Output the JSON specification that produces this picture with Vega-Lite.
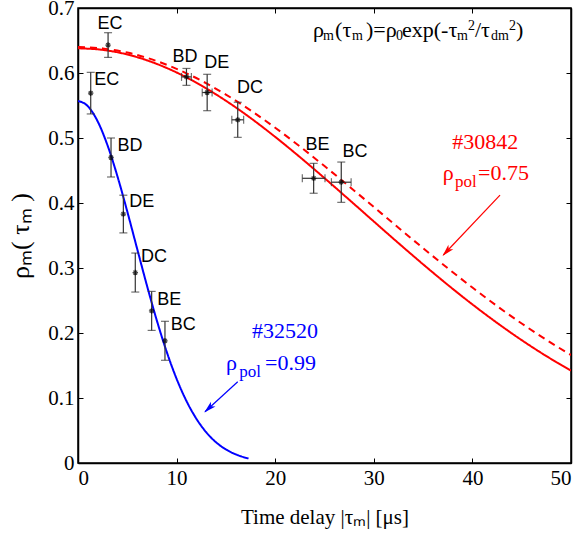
{
  "$schema": "https://vega.github.io/schema/vega-lite/v6.json",
  "width": 493,
  "height": 455,
  "autosize": "none",
  "padding": {"left": 78, "top": 8, "right": 14, "bottom": 72},
  "background": "white",
  "config": {
    "view": {"stroke": "black", "strokeWidth": 1.5},
    "axis": {
      "labelFont": "Liberation Serif",
      "labelFontSize": 21,
      "labelColor": "black",
      "titleFont": "Liberation Serif",
      "titleFontSize": 21,
      "titleFontWeight": "normal",
      "titleColor": "black",
      "domainColor": "black",
      "domainWidth": 1.5,
      "tickColor": "black",
      "tickWidth": 1,
      "grid": false
    }
  },
  "datasets": {
    "curves": [
      {"series": "blue", "x": 0, "y": 0.557},
      {"series": "blue", "x": 1, "y": 0.5489},
      {"series": "blue", "x": 2, "y": 0.5254},
      {"series": "blue", "x": 3, "y": 0.4885},
      {"series": "blue", "x": 4, "y": 0.4411},
      {"series": "blue", "x": 5, "y": 0.3868},
      {"series": "blue", "x": 6, "y": 0.3295},
      {"series": "blue", "x": 7, "y": 0.2726},
      {"series": "blue", "x": 8, "y": 0.219},
      {"series": "blue", "x": 9, "y": 0.1709},
      {"series": "blue", "x": 10, "y": 0.1295},
      {"series": "blue", "x": 11, "y": 0.0954},
      {"series": "blue", "x": 12, "y": 0.0682},
      {"series": "blue", "x": 13, "y": 0.0474},
      {"series": "blue", "x": 14, "y": 0.0319},
      {"series": "blue", "x": 15, "y": 0.0209},
      {"series": "blue", "x": 16, "y": 0.0133},
      {"series": "blue", "x": 17, "y": 0.0082},
      {"series": "blue", "x": 17.3, "y": 0.0071},
      {"series": "red", "x": 0, "y": 0.638},
      {"series": "red", "x": 2.5, "y": 0.6356},
      {"series": "red", "x": 5, "y": 0.6285},
      {"series": "red", "x": 7.5, "y": 0.6168},
      {"series": "red", "x": 10, "y": 0.6008},
      {"series": "red", "x": 12.5, "y": 0.5808},
      {"series": "red", "x": 15, "y": 0.5573},
      {"series": "red", "x": 17.5, "y": 0.5308},
      {"series": "red", "x": 20, "y": 0.5017},
      {"series": "red", "x": 22.5, "y": 0.4707},
      {"series": "red", "x": 25, "y": 0.4383},
      {"series": "red", "x": 27.5, "y": 0.4051},
      {"series": "red", "x": 30, "y": 0.3716},
      {"series": "red", "x": 32.5, "y": 0.3383},
      {"series": "red", "x": 35, "y": 0.3057},
      {"series": "red", "x": 37.5, "y": 0.2741},
      {"series": "red", "x": 40, "y": 0.244},
      {"series": "red", "x": 42.5, "y": 0.2156},
      {"series": "red", "x": 45, "y": 0.189},
      {"series": "red", "x": 47.5, "y": 0.1645},
      {"series": "red", "x": 50, "y": 0.1421},
      {"series": "reddash", "x": 0, "y": 0.64},
      {"series": "reddash", "x": 2.5, "y": 0.6378},
      {"series": "reddash", "x": 5, "y": 0.6314},
      {"series": "reddash", "x": 7.5, "y": 0.6209},
      {"series": "reddash", "x": 10, "y": 0.6064},
      {"series": "reddash", "x": 12.5, "y": 0.5883},
      {"series": "reddash", "x": 15, "y": 0.5668},
      {"series": "reddash", "x": 17.5, "y": 0.5425},
      {"series": "reddash", "x": 20, "y": 0.5158},
      {"series": "reddash", "x": 22.5, "y": 0.487},
      {"series": "reddash", "x": 25, "y": 0.4568},
      {"series": "reddash", "x": 27.5, "y": 0.4256},
      {"series": "reddash", "x": 30, "y": 0.3938},
      {"series": "reddash", "x": 32.5, "y": 0.362},
      {"series": "reddash", "x": 35, "y": 0.3305},
      {"series": "reddash", "x": 37.5, "y": 0.2997},
      {"series": "reddash", "x": 40, "y": 0.2699},
      {"series": "reddash", "x": 42.5, "y": 0.2415},
      {"series": "reddash", "x": 45, "y": 0.2146},
      {"series": "reddash", "x": 47.5, "y": 0.1894},
      {"series": "reddash", "x": 50, "y": 0.1661}
    ],
    "points": [
      {"set": "30842", "label": "EC", "x": 3.05, "y": 0.643, "ylo": 0.624, "yhi": 0.662, "xlo": 3.05, "xhi": 3.05},
      {"set": "30842", "label": "BD", "x": 11.0, "y": 0.594, "ylo": 0.581, "yhi": 0.607, "xlo": 10.5, "xhi": 11.5},
      {"set": "30842", "label": "DE", "x": 13.1, "y": 0.57, "ylo": 0.542, "yhi": 0.598, "xlo": 12.6, "xhi": 13.6},
      {"set": "30842", "label": "DC", "x": 16.2, "y": 0.528, "ylo": 0.501, "yhi": 0.555, "xlo": 15.6, "xhi": 16.8},
      {"set": "30842", "label": "BE", "x": 23.9, "y": 0.438, "ylo": 0.415, "yhi": 0.461, "xlo": 22.75, "xhi": 25.05},
      {"set": "30842", "label": "BC", "x": 26.7, "y": 0.432, "ylo": 0.401, "yhi": 0.463, "xlo": 25.7, "xhi": 27.7},
      {"set": "32520", "label": "EC", "x": 1.29, "y": 0.569, "ylo": 0.537, "yhi": 0.601, "xlo": 1.29, "xhi": 1.29},
      {"set": "32520", "label": "BD", "x": 3.35, "y": 0.47, "ylo": 0.44, "yhi": 0.5, "xlo": 3.35, "xhi": 3.35},
      {"set": "32520", "label": "DE", "x": 4.6, "y": 0.383, "ylo": 0.354, "yhi": 0.412, "xlo": 4.6, "xhi": 4.6},
      {"set": "32520", "label": "DC", "x": 5.81, "y": 0.293, "ylo": 0.263, "yhi": 0.323, "xlo": 5.81, "xhi": 5.81},
      {"set": "32520", "label": "BE", "x": 7.47, "y": 0.234, "ylo": 0.204, "yhi": 0.264, "xlo": 7.47, "xhi": 7.47},
      {"set": "32520", "label": "BC", "x": 8.82, "y": 0.188, "ylo": 0.158, "yhi": 0.218, "xlo": 8.82, "xhi": 8.82}
    ],
    "labels": [
      {"text": "EC", "x": 3.25, "y": 0.676},
      {"text": "BD", "x": 10.85, "y": 0.625},
      {"text": "DE", "x": 14.07, "y": 0.615},
      {"text": "DC", "x": 17.44, "y": 0.5765},
      {"text": "BE", "x": 24.3, "y": 0.489},
      {"text": "BC", "x": 28.1, "y": 0.478},
      {"text": "EC", "x": 2.91, "y": 0.589},
      {"text": "BD", "x": 5.27, "y": 0.487},
      {"text": "DE", "x": 6.46, "y": 0.402},
      {"text": "DC", "x": 7.71, "y": 0.3165},
      {"text": "BE", "x": 9.26, "y": 0.251},
      {"text": "BC", "x": 10.68, "y": 0.212}
    ],
    "formulaMain": [
      {"text": "ρ", "x": 23.83, "y": 0.6554},
      {"text": "(τ", "x": 26.07, "y": 0.6554},
      {"text": ")=ρ", "x": 29.21, "y": 0.6554},
      {"text": "exp(-τ", "x": 32.86, "y": 0.6554},
      {"text": "/τ", "x": 40.26, "y": 0.6554},
      {"text": ")", "x": 44.42, "y": 0.6554}
    ],
    "formulaSub": [
      {"text": "m", "x": 24.85, "y": 0.6508},
      {"text": "m", "x": 27.79, "y": 0.6508},
      {"text": "0", "x": 32.25, "y": 0.6508},
      {"text": "m", "x": 38.44, "y": 0.6508},
      {"text": "dm", "x": 41.89, "y": 0.6508}
    ],
    "formulaSup": [
      {"text": "2", "x": 39.55, "y": 0.666},
      {"text": "2", "x": 43.71, "y": 0.666}
    ],
    "annotMain": [
      {"color": "red", "text": "ρ", "x": 37.0, "y": 0.435},
      {"color": "red", "text": "=0.75", "x": 40.57, "y": 0.435},
      {"color": "blue", "text": "ρ", "x": 15.0, "y": 0.143},
      {"color": "blue", "text": "=0.99", "x": 18.97, "y": 0.143}
    ],
    "annotSub": [
      {"color": "red", "text": "pol", "x": 38.24, "y": 0.425},
      {"color": "blue", "text": "pol", "x": 16.36, "y": 0.133}
    ],
    "annotShot": [
      {"color": "red", "text": "#30842", "x": 41.3, "y": 0.483},
      {"color": "blue", "text": "#32520", "x": 20.99, "y": 0.192}
    ],
    "arrows": [
      {"color": "red", "x": 42.8, "y": 0.412, "x2": 37.05, "y2": 0.32, "hx": 37.39, "hy": 0.3255, "angle": 223},
      {"color": "blue", "x": 16.2, "y": 0.125, "x2": 12.88, "y2": 0.0789, "hx": 13.26, "hy": 0.0841, "angle": 227}
    ]
  },
  "resolve": {"axis": {"x": "independent", "y": "independent"}},
  "layer": [
    {
      "data": {"name": "curves"},
      "mark": {"type": "line", "strokeWidth": 2, "clip": true, "interpolate": "monotone"},
      "encoding": {
        "x": {"field": "x", "type": "quantitative", "scale": {"domain": [0, 50], "nice": false},
          "axis": {"title": "Time delay |τₘ| [μs]", "values": [0, 10, 20, 30, 40, 50], "tickSize": -5, "labelPadding": 9, "titlePadding": 18, "labelFont": "Liberation Serif", "labelFontSize": 21}},
        "y": {"field": "y", "type": "quantitative", "scale": {"domain": [0, 0.7], "nice": false},
          "axis": {"title": "ρₘ( τₘ )", "titleFontSize": 26, "values": [0, 0.1, 0.2, 0.3, 0.4, 0.5, 0.6, 0.7], "format": "~g", "tickSize": -5, "labelPadding": 9, "titlePadding": 14, "labelFont": "Liberation Serif", "labelFontSize": 21}},
        "color": {"field": "series", "type": "nominal", "scale": {"domain": ["blue", "red", "reddash"], "range": ["#0000ff", "#ff0000", "#ff0000"]}, "legend": null},
        "strokeDash": {"field": "series", "type": "nominal", "scale": {"domain": ["blue", "red", "reddash"], "range": [[1, 0], [1, 0], [7, 5]]}, "legend": null}
      }
    },
    {
      "data": {"name": "curves"},
      "mark": {"type": "point", "opacity": 0},
      "encoding": {
        "x": {"field": "x", "type": "quantitative", "axis": {"orient": "top", "title": null, "labels": false, "values": [0, 10, 20, 30, 40, 50], "tickSize": -5}},
        "y": {"field": "y", "type": "quantitative", "axis": {"orient": "right", "title": null, "labels": false, "values": [0, 0.1, 0.2, 0.3, 0.4, 0.5, 0.6, 0.7], "tickSize": -5}}
      }
    },
    {
      "data": {"name": "points"},
      "mark": {"type": "rule", "color": "#333", "strokeWidth": 1.2},
      "encoding": {
        "x": {"field": "x", "type": "quantitative", "axis": null},
        "y": {"field": "ylo", "type": "quantitative", "axis": null},
        "y2": {"field": "yhi"}
      }
    },
    {
      "data": {"name": "points"},
      "transform": [{"filter": "datum.xhi > datum.xlo"}],
      "mark": {"type": "rule", "color": "#333", "strokeWidth": 1.2},
      "encoding": {
        "x": {"field": "xlo", "type": "quantitative", "axis": null},
        "x2": {"field": "xhi"},
        "y": {"field": "y", "type": "quantitative", "axis": null}
      }
    },
    {
      "data": {"name": "points"},
      "mark": {"type": "tick", "orient": "horizontal", "size": 8, "thickness": 1.2, "color": "#333"},
      "encoding": {
        "x": {"field": "x", "type": "quantitative", "axis": null},
        "y": {"field": "ylo", "type": "quantitative", "axis": null}
      }
    },
    {
      "data": {"name": "points"},
      "mark": {"type": "tick", "orient": "horizontal", "size": 8, "thickness": 1.2, "color": "#333"},
      "encoding": {
        "x": {"field": "x", "type": "quantitative", "axis": null},
        "y": {"field": "yhi", "type": "quantitative", "axis": null}
      }
    },
    {
      "data": {"name": "points"},
      "transform": [{"filter": "datum.xhi > datum.xlo"}],
      "mark": {"type": "tick", "orient": "vertical", "size": 8, "thickness": 1.2, "color": "#333"},
      "encoding": {
        "x": {"field": "xlo", "type": "quantitative", "axis": null},
        "y": {"field": "y", "type": "quantitative", "axis": null}
      }
    },
    {
      "data": {"name": "points"},
      "transform": [{"filter": "datum.xhi > datum.xlo"}],
      "mark": {"type": "tick", "orient": "vertical", "size": 8, "thickness": 1.2, "color": "#333"},
      "encoding": {
        "x": {"field": "xhi", "type": "quantitative", "axis": null},
        "y": {"field": "y", "type": "quantitative", "axis": null}
      }
    },
    {
      "data": {"name": "points"},
      "mark": {"type": "point", "shape": "M-1,0L1,0M0,-1L0,1M-0.7,-0.7L0.7,0.7M-0.7,0.7L0.7,-0.7", "size": 30, "color": "black", "strokeWidth": 1.3, "filled": false},
      "encoding": {
        "x": {"field": "x", "type": "quantitative", "axis": null},
        "y": {"field": "y", "type": "quantitative", "axis": null}
      }
    },
    {
      "data": {"name": "labels"},
      "mark": {"type": "text", "font": "Liberation Sans", "fontSize": 18, "color": "black", "align": "center", "baseline": "middle"},
      "encoding": {
        "x": {"field": "x", "type": "quantitative", "axis": null},
        "y": {"field": "y", "type": "quantitative", "axis": null},
        "text": {"field": "text"}
      }
    },
    {
      "data": {"name": "formulaMain"},
      "mark": {"type": "text", "font": "Liberation Serif", "fontSize": 22, "color": "black", "align": "left", "baseline": "alphabetic"},
      "encoding": {
        "x": {"field": "x", "type": "quantitative", "axis": null},
        "y": {"field": "y", "type": "quantitative", "axis": null},
        "text": {"field": "text"}
      }
    },
    {
      "data": {"name": "formulaSub"},
      "mark": {"type": "text", "font": "Liberation Serif", "fontSize": 14, "color": "black", "align": "left", "baseline": "alphabetic"},
      "encoding": {
        "x": {"field": "x", "type": "quantitative", "axis": null},
        "y": {"field": "y", "type": "quantitative", "axis": null},
        "text": {"field": "text"}
      }
    },
    {
      "data": {"name": "formulaSup"},
      "mark": {"type": "text", "font": "Liberation Serif", "fontSize": 14, "color": "black", "align": "left", "baseline": "alphabetic"},
      "encoding": {
        "x": {"field": "x", "type": "quantitative", "axis": null},
        "y": {"field": "y", "type": "quantitative", "axis": null},
        "text": {"field": "text"}
      }
    },
    {
      "data": {"name": "annotShot"},
      "mark": {"type": "text", "font": "Liberation Serif", "fontSize": 22, "align": "center", "baseline": "alphabetic"},
      "encoding": {
        "x": {"field": "x", "type": "quantitative", "axis": null},
        "y": {"field": "y", "type": "quantitative", "axis": null},
        "text": {"field": "text"},
        "color": {"field": "color", "type": "nominal", "scale": {"domain": ["red", "blue"], "range": ["#ff0000", "#0000ff"]}, "legend": null}
      }
    },
    {
      "data": {"name": "annotMain"},
      "mark": {"type": "text", "font": "Liberation Serif", "fontSize": 22, "align": "left", "baseline": "alphabetic"},
      "encoding": {
        "x": {"field": "x", "type": "quantitative", "axis": null},
        "y": {"field": "y", "type": "quantitative", "axis": null},
        "text": {"field": "text"},
        "color": {"field": "color", "type": "nominal", "scale": {"domain": ["red", "blue"], "range": ["#ff0000", "#0000ff"]}, "legend": null}
      }
    },
    {
      "data": {"name": "annotSub"},
      "mark": {"type": "text", "font": "Liberation Serif", "fontSize": 17, "align": "left", "baseline": "alphabetic"},
      "encoding": {
        "x": {"field": "x", "type": "quantitative", "axis": null},
        "y": {"field": "y", "type": "quantitative", "axis": null},
        "text": {"field": "text"},
        "color": {"field": "color", "type": "nominal", "scale": {"domain": ["red", "blue"], "range": ["#ff0000", "#0000ff"]}, "legend": null}
      }
    },
    {
      "data": {"name": "arrows"},
      "mark": {"type": "rule", "strokeWidth": 1.2},
      "encoding": {
        "x": {"field": "x", "type": "quantitative", "axis": null},
        "y": {"field": "y", "type": "quantitative", "axis": null},
        "x2": {"field": "x2"},
        "y2": {"field": "y2"},
        "color": {"field": "color", "type": "nominal", "scale": {"domain": ["red", "blue"], "range": ["#ff0000", "#0000ff"]}, "legend": null}
      }
    },
    {
      "data": {"name": "arrows"},
      "mark": {"type": "point", "shape": "M0,-1L0.55,1L0,0.5L-0.55,1Z", "size": 150, "filled": true, "opacity": 1},
      "encoding": {
        "x": {"field": "hx", "type": "quantitative", "axis": null},
        "y": {"field": "hy", "type": "quantitative", "axis": null},
        "angle": {"field": "angle", "type": "quantitative", "scale": null},
        "color": {"field": "color", "type": "nominal", "scale": {"domain": ["red", "blue"], "range": ["#ff0000", "#0000ff"]}, "legend": null}
      }
    }
  ]
}
